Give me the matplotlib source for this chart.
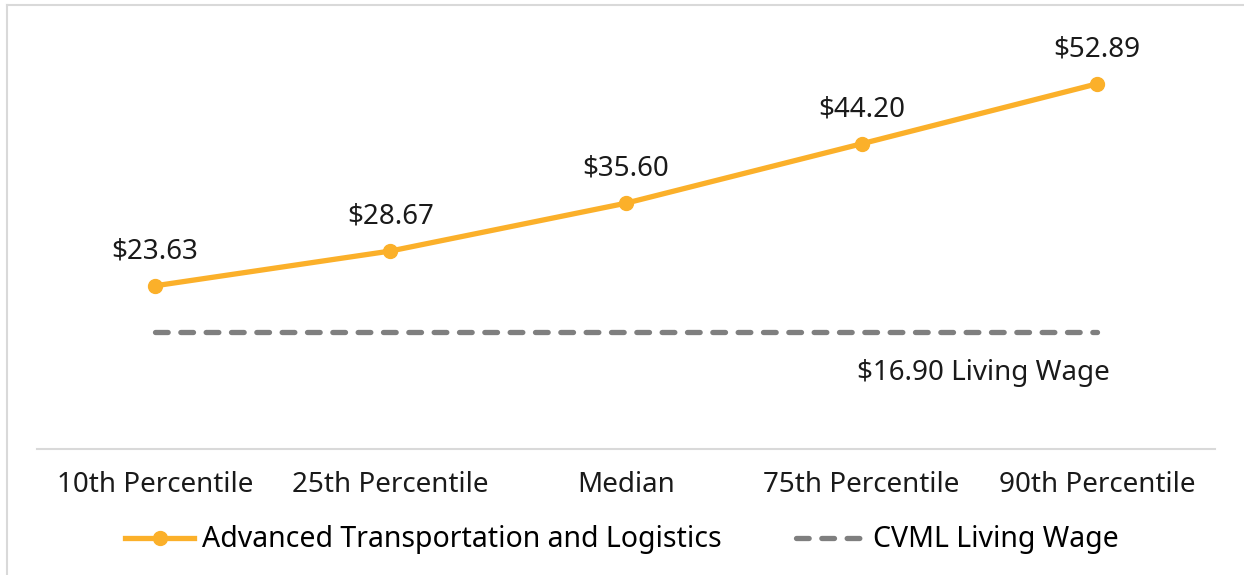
import matplotlib.pyplot as plt
from matplotlib.lines import Line2D

categories = ['10th Percentile', '25th Percentile', 'Median', '75th Percentile', '90th Percentile']
wages = [23.63, 28.67, 35.60, 44.20, 52.89]
living_wage = [16.90, 16.90, 16.90, 16.90, 16.90]
wage_labels = ['$23.63', '$28.67', '$35.60', '$44.20', '$52.89']
living_label = '$16.90 Living Wage'

orange = '#FBB02A'
gray = '#7F7F7F'
fs = 20
plt.rcParams['font.family'] = ['Noto Sans', 'DejaVu Sans']

fig = plt.figure(figsize=(12.44, 5.75), dpi=100)
ax = fig.add_axes([37 / 1244, 126 / 575, 1178 / 1244, 444 / 575])

x = list(range(len(categories)))
dash = (0, (2.4, 2.4))
ax.plot(x, wages, color=orange, lw=3.8, marker='o', ms=10, solid_capstyle='round')
ax.plot(x, living_wage, color=gray, lw=3.8, ls=dash, dash_capstyle='round')

for xi, v, lab in zip(x, wages, wage_labels):
    ax.annotate(lab, (xi, v), xytext=(0, 25), textcoords='offset points',
                ha='center', va='center', fontsize=fs, color='#1a1a1a')
ax.annotate(living_label, (x[-1], living_wage[-1]), xytext=(9, -29.5), textcoords='offset points',
            ha='right', va='center', fontsize=fs, color='#1a1a1a')

ax.set_xlim(-0.5, len(categories) - 0.5)
ax.set_ylim(0, 64.3)
ax.set_xticks(x)
ax.set_xticklabels(categories, fontsize=fs, color='#1a1a1a')
ax.tick_params(axis='x', length=0, pad=16)
ax.set_yticks([])
for s in ['top', 'right', 'left']:
    ax.spines[s].set_visible(False)
ax.spines['bottom'].set_color('#D9D9D9')
ax.spines['bottom'].set_linewidth(1.5)

handles = [
    Line2D([0], [0], color=orange, lw=3.8, marker='o', ms=10),
    Line2D([0], [0], color=gray, lw=3.8, ls=dash, dash_capstyle='round'),
]
fig.legend(handles, ['Advanced Transportation and Logistics', 'CVML Living Wage'],
           loc='center', bbox_to_anchor=(0.5, 1 - 540 / 575), ncol=2, frameon=False,
           fontsize=20.5, handlelength=2.4, columnspacing=2.6, handletextpad=0.3)

# outer chart border (left and top visible)
fig.add_artist(Line2D([7 / 1244, 7 / 1244], [0, 1 - 5 / 575], color='#D9D9D9', lw=1.5))
fig.add_artist(Line2D([7 / 1244, 1], [1 - 5 / 575, 1 - 5 / 575], color='#D9D9D9', lw=1.5))

fig.savefig('out.png', dpi=100)
